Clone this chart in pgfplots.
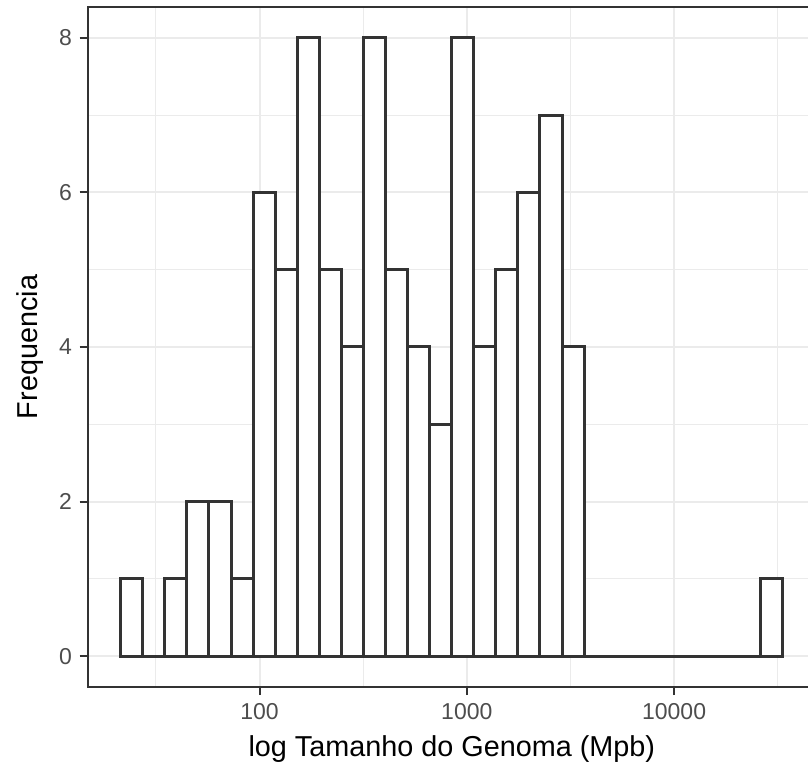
\documentclass[border=0pt]{standalone}
\usepackage{pgfplots}
\pgfplotsset{compat=1.18}
\usepackage{fontspec}
\setmainfont{Liberation Sans}
\definecolor{border}{HTML}{333333}
\definecolor{gridc}{HTML}{EBEBEB}
\definecolor{ticklab}{HTML}{4D4D4D}
\begin{document}
\begin{tikzpicture}
\begin{axis}[
  scale only axis, width=360.2pt, height=340.2pt,
  xmin=1.1707, xmax=4.646, ymin=-0.4, ymax=8.4,
  axis line style={draw=none},
  xtick={2,3,4}, xticklabels={100,1000,10000},
  ytick={0,2,4,6,8},
  minor xtick={1.5,2.5,3.5,4.5}, minor ytick={1,3,5,7},
  grid=both,
  major grid style={gridc, line width=1pt},
  minor grid style={gridc, line width=0.5pt},
  tick align=outside, tick pos=left,
  major tick length=4pt, minor tick length=0pt,
  every tick/.style={border, line width=1pt},
  /pgf/number format/assume math mode=true,
  ticklabel style={font=\fontsize{11.5}{13}\selectfont, color=ticklab, inner sep=0pt},
  xticklabel shift=3.75pt, yticklabel shift=3.65pt,
]
\addplot[ybar interval, fill=white, draw=border, line width=1.5pt] table {
x y
1.3304 1
1.43685 0
1.5433 1
1.64975 2
1.7562 2
1.86265 1
1.9691 6
2.07555 5
2.182 8
2.28845 5
2.3949 4
2.50135 8
2.6078 5
2.71425 4
2.8207 3
2.92715 8
3.0336 4
3.14005 5
3.2465 6
3.35295 7
3.4594 4
3.56585 0
3.6723 0
3.77875 0
3.8852 0
3.99165 0
4.0981 0
4.20455 0
4.311 0
4.41745 1
4.5239 0
};
\coordinate (ll) at (rel axis cs:0,0);
\coordinate (ur) at (rel axis cs:1,1);
\coordinate (ymid) at (rel axis cs:0,0.5);
\coordinate (xmid) at (rel axis cs:0.5056,0);
\end{axis}
\draw[border, line width=1pt] (ur) -- (ll |- ur) -- (ll) -- (ur |- ll);
\node[rotate=90, anchor=base, inner sep=0pt, font=\fontsize{14.4}{17}\selectfont] at ([xshift=-25.3pt]ymid) {Frequencia};
\node[anchor=base, inner sep=0pt, font=\fontsize{14.4}{17}\selectfont] at ([yshift=-34.75pt]xmid) {log Tamanho do Genoma (Mpb)};
\pgfresetboundingbox
\useasboundingbox ([xshift=-43.8pt, yshift=-38.4pt]ll) rectangle ([yshift=3.4pt]ur);
\end{tikzpicture}
\end{document}
